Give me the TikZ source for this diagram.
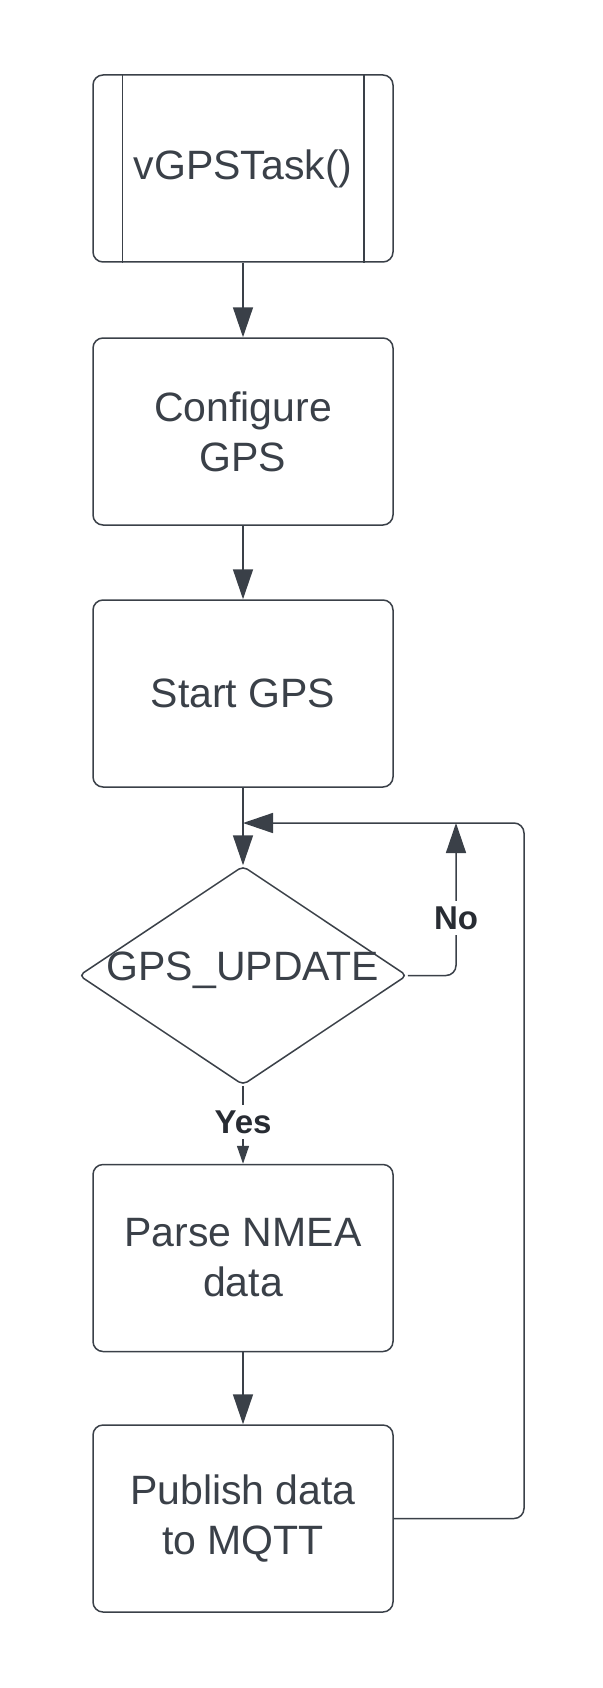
\documentclass[tikz,border=0pt]{standalone}
\usepackage{fontspec}
\setmainfont{Liberation Sans}
\usepackage{tikz}
\usetikzlibrary{shapes.geometric,arrows.meta}
\definecolor{ink}{RGB}{58,64,72}
\definecolor{labelink}{RGB}{40,44,51}
\tikzset{
    box/.style={draw=ink, line width=1.5pt, rounded corners=10pt, minimum width=300pt,
        minimum height=187pt, inner sep=0pt, text=ink, font=\fontsize{41}{50}\selectfont, align=center},
    decision/.style={draw=ink, line width=1.5pt, diamond, rounded corners=5pt,
        minimum width=328pt, minimum height=219pt, inner sep=0pt},
    flow/.style={draw=ink, line width=1.5pt, rounded corners=10pt, -{Triangle[length=30pt,width=20pt]}},
    answer/.style={fill=white, text=labelink, font=\fontsize{33}{38}\selectfont\bfseries, inner sep=5pt}
}

\begin{document}
\begin{tikzpicture}[x=1pt,y=-1pt]
    \useasboundingbox (0,0) rectangle (602,1688);

    \node[box] (Task) at (243,168.5) {vGPSTask()};
    \draw[ink, line width=1.5pt] ([xshift=30pt]Task.north west) -- ([xshift=30pt]Task.south west);
    \draw[ink, line width=1.5pt] ([xshift=-30pt]Task.north east) -- ([xshift=-30pt]Task.south east);
    \node[box] (Conf) at (243,431.5) {Configure\\GPS};
    \node[box] (Start) at (243,693.5) {Start GPS};
    \node[decision] (Upd) at (243,975.5) {};
    \node[text=ink, font=\fontsize{41}{50}\selectfont, inner sep=0pt] (UpdText) at ([yshift=5pt]Upd.center) {GPS\_UPDATE};
    \node[box] (Parse) at (243,1258) {Parse NMEA\\data};
    \node[box] (Pub) at (243,1518.5) {Publish data\\to MQTT};

    \coordinate (Merge) at (243,823);
    \coordinate (NoTurn) at (456,975.5);
    \coordinate (NoTop) at (456,823);
    \coordinate (LoopLow) at (524,1518.5);
    \coordinate (LoopHigh) at (524,823);

    \draw[flow] (Task) -- (Conf);
    \draw[flow] (Conf) -- (Start);
    \draw[flow] (Start) -- (Upd);
    \draw[flow] (Parse) -- (Pub);
    \draw[flow] (Upd.east) -- (NoTurn) -- (NoTop);
    \draw[flow] (Pub.east) -- (LoopLow) -- (LoopHigh) -- (Merge);
    \draw[ink, line width=1.5pt, -{Triangle[length=18pt,width=12pt]}] (Upd.south) -- (Parse.north);

    \node[answer] (No) at (456,918) {No};
    \node[answer] (Yes) at (243,1122) {Yes};
\end{tikzpicture}
\end{document}
